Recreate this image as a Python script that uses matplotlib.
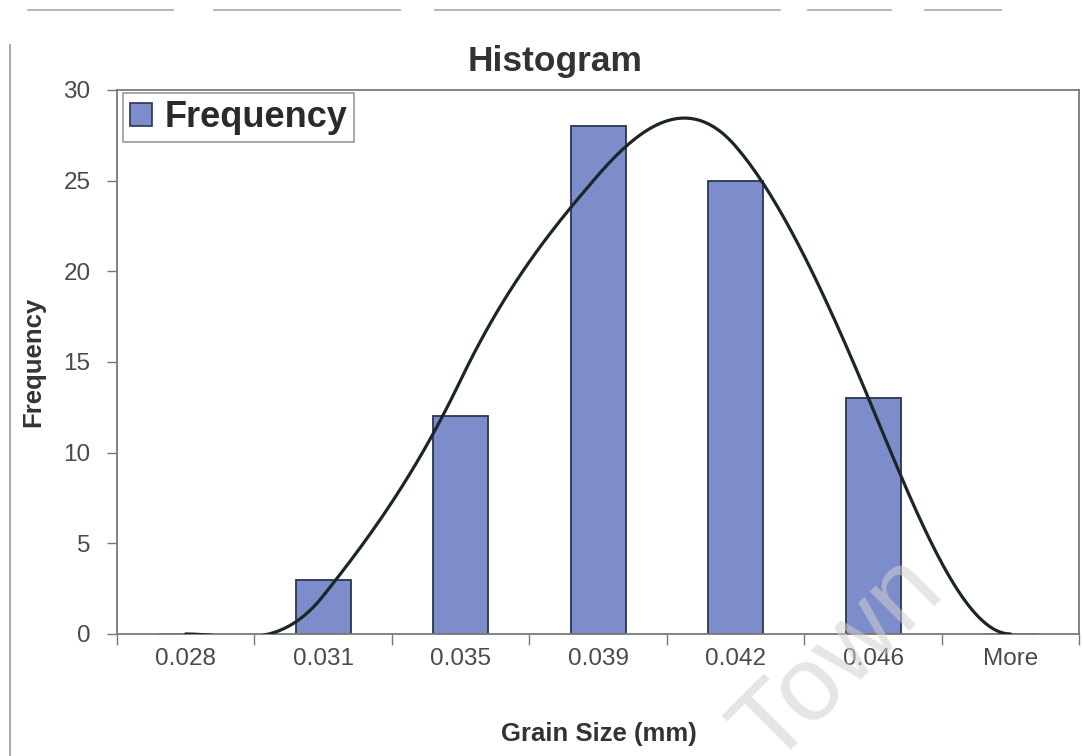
import numpy as np
import matplotlib.pyplot as plt
from matplotlib.patches import Patch
from matplotlib.lines import Line2D

plt.rcParams['font.family'] = ['Liberation Sans', 'DejaVu Sans']

# bins and counts
bins = ['0.028', '0.031', '0.035', '0.039', '0.042', '0.046', 'More']
counts = [0, 3, 12, 28, 25, 13, 0]
# fitted curve value at each bin
curve = [0, 2.1, 14, 25.3, 26.9, 12.4, 0]

bar_color = '#7d8ccb'
edge_color = '#2c3552'


def smooth_curve(y, tension=0.68, steps=40):
    """Cardinal spline through the bin values (like a smoothed line series)."""
    y = np.asarray(y, dtype=float)
    n = len(y)
    m = np.zeros(n)
    for i in range(1, n - 1):
        m[i] = tension * (y[i + 1] - y[i - 1])
    xs, ys = [], []
    for i in range(n - 1):
        t = np.linspace(0, 1, steps, endpoint=(i == n - 2))
        h00 = 2 * t**3 - 3 * t**2 + 1
        h10 = t**3 - 2 * t**2 + t
        h01 = -2 * t**3 + 3 * t**2
        h11 = t**3 - t**2
        xs.append(i + t)
        ys.append(h00 * y[i] + h10 * m[i] + h01 * y[i + 1] + h11 * m[i + 1])
    return np.concatenate(xs), np.concatenate(ys)


fig = plt.figure(figsize=(10.83, 7.56), dpi=100)
ax = fig.add_axes([0.108, 0.1614, 0.8885, 0.7196])

x = np.arange(len(bins))
ax.bar(x, counts, width=0.4, color=bar_color, edgecolor=edge_color, linewidth=1.3, zorder=2)

cx, cy = smooth_curve(curve)
ax.plot(cx, cy, color='#1c2626', linewidth=2.3, zorder=3, solid_capstyle='round')

ax.set_xlim(-0.5, 6.48)
ax.set_ylim(0, 30)
ax.set_yticks(range(0, 31, 5))
ax.set_xticks(x)
ax.set_xticklabels(bins)
ax.set_xticks(np.arange(-0.5, 6.6, 1), minor=True)

ax.tick_params(axis='y', length=7, width=1, color='#777777', pad=12,
               labelsize=17.5, labelcolor='#4a4a4a')
ax.tick_params(axis='x', which='major', length=0, pad=10,
               labelsize=17.5, labelcolor='#4a4a4a')
ax.tick_params(axis='x', which='minor', length=8, width=1, color='#777777')

for side in ['left', 'bottom', 'top', 'right']:
    ax.spines[side].set_color('#7a7a7a')
    ax.spines[side].set_linewidth(1.3)

handle = Patch(facecolor=bar_color, edgecolor=edge_color, linewidth=1.2)
leg = ax.legend([handle], ['Frequency'], loc='upper left', bbox_to_anchor=(0.006, 0.995),
                borderaxespad=0, prop={'weight': 'bold', 'size': 26},
                handlelength=0.6, handleheight=0.6, handletextpad=0.35,
                borderpad=0.2, fancybox=False, framealpha=1)
leg.get_frame().set_edgecolor('#9a9a9a')
leg.get_frame().set_linewidth(1.2)
for t in leg.get_texts():
    t.set_color('#2a2a2a')

fig.text(0.5125, 0.918, 'Histogram', ha='center', va='center',
         fontsize=25.5, fontweight='bold', color='#333333')
fig.text(0.553, 0.029, 'Grain Size (mm)', ha='center', va='center',
         fontsize=18.5, fontweight='bold', color='#333333')
fig.text(0.0305, 0.521, 'Frequency', ha='center', va='center', rotation=90,
         fontsize=18.5, fontweight='bold', color='#333333')

# faint chart-area border
fig.add_artist(Line2D([0.0095, 0.0095], [0.0, 0.94], color='#9a9a9a', linewidth=1.2))
for x0, x1 in [(28, 173), (214, 400), (435, 780), (808, 891), (925, 1001)]:
    fig.add_artist(Line2D([x0 / 1083, x1 / 1083], [0.987, 0.987], color='#a8a8a8', linewidth=1.2))

# watermark
fig.text(0.874, 0.213, 'Cape Town', ha='right', va='baseline', rotation=45,
         rotation_mode='anchor', fontsize=76, color='#d0d0d0', alpha=0.55, zorder=5)

fig.savefig('out.png', dpi=100)
